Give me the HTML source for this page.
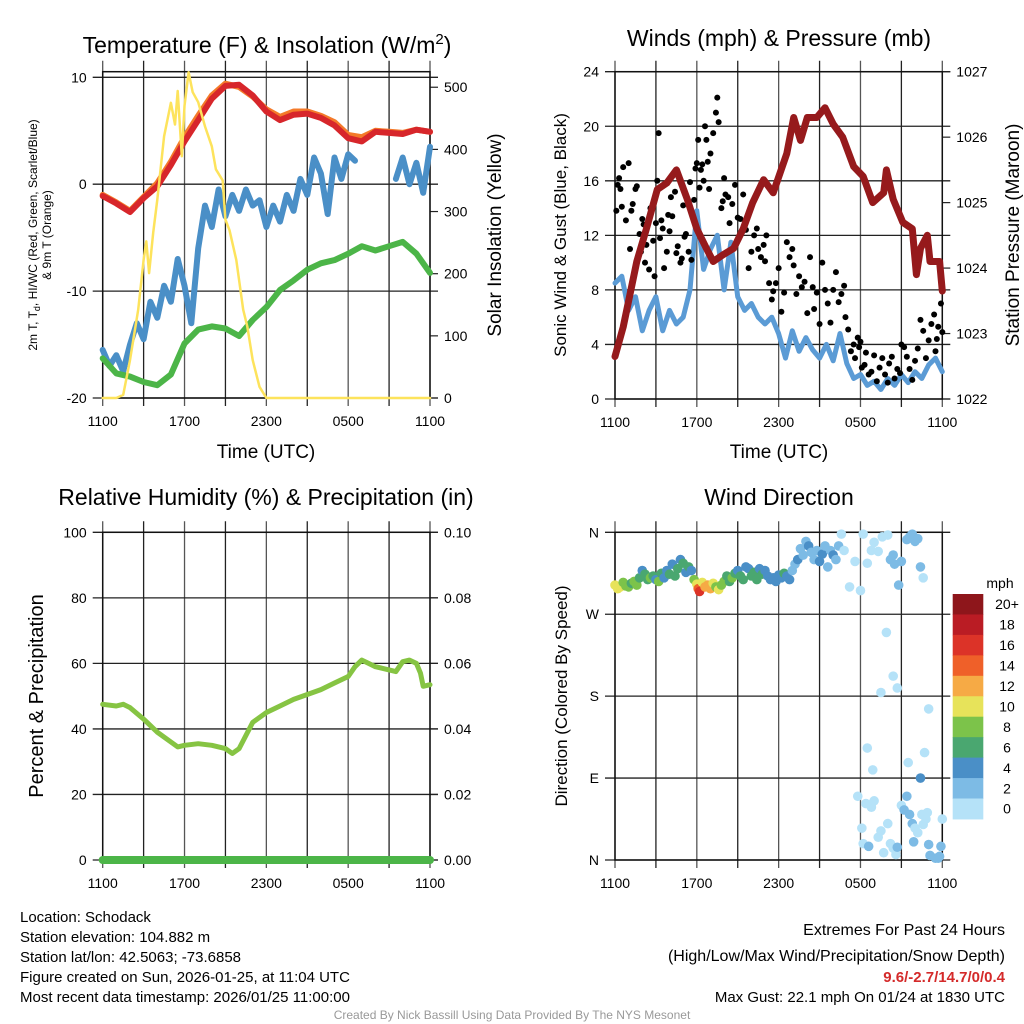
<!DOCTYPE html>
<html><head><meta charset="utf-8"><style>
html,body{margin:0;padding:0;background:#fff;}
svg{display:block;font-family:"Liberation Sans",sans-serif;}
</style></head><body>
<svg id="s" width="1024" height="1024" viewBox="0 0 1024 1024" xmlns="http://www.w3.org/2000/svg">
<rect width="1024" height="1024" fill="#fff"/>
<text x="267" y="53" font-size="23" text-anchor="middle">Temperature (F) &amp; Insolation (W/m<tspan dy="-9" font-size="15">2</tspan><tspan dy="9">)</tspan></text>
<text x="779" y="46" font-size="23" text-anchor="middle">Winds (mph) &amp; Pressure (mb)</text>
<text x="266" y="505" font-size="23" text-anchor="middle">Relative Humidity (%) &amp; Precipitation (in)</text>
<text x="779" y="505" font-size="23" text-anchor="middle">Wind Direction</text>
<text x="266" y="458" font-size="19" text-anchor="middle">Time (UTC)</text>
<text x="779" y="458" font-size="19" text-anchor="middle">Time (UTC)</text>
<text transform="translate(37,235) rotate(-90)" font-size="12" text-anchor="middle">2m T, T<tspan dy="3" font-size="9">d</tspan><tspan dy="-3">, HI/WC (Red, Green, Scarlet/Blue)</tspan></text>
<text transform="translate(51,235) rotate(-90)" font-size="12" text-anchor="middle">&amp; 9m T (Orange)</text>
<text transform="translate(501,235) rotate(-90)" font-size="19" text-anchor="middle">Solar Insolation (Yellow)</text>
<text transform="translate(566,235) rotate(-90)" font-size="17" text-anchor="middle">Sonic Wind &amp; Gust (Blue, Black)</text>
<text transform="translate(1019,235) rotate(-90)" font-size="19" text-anchor="middle">Station Pressure (Maroon)</text>
<text transform="translate(43,696) rotate(-90)" font-size="20" text-anchor="middle">Percent &amp; Precipitation</text>
<text transform="translate(567,696) rotate(-90)" font-size="17" text-anchor="middle">Direction (Colored By Speed)</text>
<text x="1000" y="588" font-size="14" text-anchor="middle">mph</text>
<g font-size="15">
<text x="20" y="922">Location: Schodack</text>
<text x="20" y="942">Station elevation: 104.882 m</text>
<text x="20" y="962">Station lat/lon: 42.5063; -73.6858</text>
<text x="20" y="982">Figure created on Sun, 2026-01-25, at 11:04 UTC</text>
<text x="20" y="1002">Most recent data timestamp: 2026/01/25 11:00:00</text>
</g>
<g font-size="15" text-anchor="end">
<text x="1005" y="935" font-size="16">Extremes For Past 24 Hours</text>
<text x="1005" y="961" font-size="16">(High/Low/Max Wind/Precipitation/Snow Depth)</text>
<text x="1005" y="982" font-weight="bold" fill="#d42a2a">9.6/-2.7/14.7/0/0.4</text>
<text x="1005" y="1002">Max Gust: 22.1 mph On 01/24 at 1830 UTC</text>
</g>
<text x="512" y="1019" font-size="12" fill="#999" text-anchor="middle">Created By Nick Bassill Using Data Provided By The NYS Mesonet</text>
</svg>
<script>
// ---- data ----
const hourT = [0,1,2,3,4,5,6,7,8,9,10,11,12,13,14,15,16,17,18,19,20,21,22,23,24];
const tempF = [-1.1,-1.8,-2.6,-1.3,-0.2,1.8,4.0,6.0,8.0,9.2,9.3,8.3,6.8,6.0,6.5,6.6,6.2,5.5,4.3,4.0,4.9,4.8,4.7,5.1,4.9];
const temp9m = [-1.0,-1.7,-2.5,-1.2,0.1,2.1,4.4,6.4,8.3,9.4,9.1,8.2,7.0,6.3,6.8,6.8,6.4,5.8,4.6,4.4,5.0,4.9,4.8,5.1,4.9];
const wcF = [-16.3,-17.7,-18.0,-18.5,-18.8,-17.8,-14.9,-13.6,-13.3,-13.5,-14.2,-12.7,-11.5,-9.9,-9.0,-8.0,-7.4,-7.1,-6.5,-5.8,-6.2,-5.8,-5.4,-6.5,-8.3];
const halfT = []; for (let i=0;i<=48;i++) halfT.push(i/2);
const dewF = [-15.5,-17,-16,-17.5,-15,-13,-14.5,-11,-12.5,-9.5,-11,-7,-9.5,-13,-6,-2,-4,-0.5,-3,-1,-2.5,-0.5,-2,-1.5,-4,-2,-3.5,-1,-2.5,0.5,-1,2.5,1,-2.8,2.5,0.5,2.8,2.2,null,null,null,null,null,0.5,2.5,0.0,2,-0.8,3.5];
const insT = [0,1,1.5,2,2.6,3.0,3.2,3.4,3.7,4,4.5,5,5.3,5.5,5.8,6,6.3,6.6,7,7.5,8,8.3,8.8,9,9.3,9.8,10.3,10.6,11,11.5,12,24];
const insV = [0,0,5,61,142,222,252,201,266,319,421,475,440,494,389,470,524,492,476,437,405,368,350,287,270,222,142,115,61,18,0,0];
const sonicV = [8.5,9.0,6.5,7.5,5.0,6.5,7.5,5.0,6.5,5.5,6.0,8.0,13.8,9.5,11.0,12.0,8.0,11.5,7.5,6.5,7.0,6.0,5.5,6.0,4.8,3.0,5.0,3.5,4.5,3.6,3.0,4.0,2.8,4.8,2.6,1.5,1.8,1.0,1.3,0.7,1.5,1.0,1.8,1.2,2.0,1.5,2.5,3.0,2.0];
const presT = [0,0.6,1.1,1.6,2.3,3.1,3.8,4.5,5.3,6.0,6.7,7.2,7.9,8.7,9.4,10.1,10.9,11.6,12.1,12.6,13.1,13.6,14.1,14.8,15.4,16.0,16.7,17.5,18.2,18.9,19.7,19.9,20.4,21.1,21.8,22.1,22.4,22.9,23.1,23.8,24];
const presV = [1022.65,1023.1,1023.6,1024.1,1024.6,1025.2,1025.3,1025.5,1025.05,1024.6,1024.3,1024.1,1024.2,1024.3,1024.6,1025.0,1025.35,1025.15,1025.45,1025.75,1026.3,1025.95,1026.3,1026.3,1026.45,1026.2,1026.0,1025.55,1025.4,1025.0,1025.15,1025.5,1025.05,1024.7,1024.6,1023.9,1024.3,1024.5,1024.1,1024.1,1023.65];
const gustT = [0.1,0.2,0.3,0.4,0.5,0.6,0.8,1.0,1.1,1.2,1.3,1.5,1.6,1.8,1.9,2.0,2.1,2.2,2.3,2.5,2.6,2.8,2.9,3.0,3.1,3.2,3.3,3.4,3.5,3.6,3.8,3.9,4.0,4.1,4.2,4.4,4.5,4.6,4.8,4.9,5.0,5.1,5.2,5.4,5.5,5.6,5.8,5.9,6.0,6.1,6.2,6.3,6.4,6.5,6.6,6.7,6.8,6.9,7.0,7.2,7.4,7.5,7.6,7.8,7.9,8.0,8.1,8.3,8.4,8.6,8.8,9.0,9.2,9.4,9.6,9.8,10.0,10.2,10.4,10.5,10.7,10.9,11.0,11.1,11.3,11.5,11.6,11.8,12.0,12.2,12.4,12.6,12.8,13.0,13.1,13.3,13.5,13.7,13.9,14.1,14.3,14.5,14.6,14.8,15.0,15.2,15.4,15.6,15.8,16.0,16.2,16.4,16.6,16.8,16.9,17.1,17.3,17.5,17.6,17.8,17.9,18.0,18.1,18.3,18.4,18.6,18.8,19.0,19.2,19.4,19.6,19.8,20.0,20.1,20.3,20.5,20.7,20.9,21.0,21.2,21.4,21.6,21.8,22.0,22.2,22.4,22.6,22.8,23.0,23.2,23.4,23.5,23.6,23.7,23.9,24.0];
const gustV = [13.8,15.7,16.2,15.4,14.1,17.0,13.1,17.3,11.0,13.8,14.3,15.4,15.6,12.1,10.8,13.2,12.8,10.0,11.3,9.5,14.0,11.6,9.0,12.9,16.0,19.5,11.8,13.1,12.5,9.6,10.8,13.5,12.3,14.8,13.4,15.2,10.7,11.2,10.0,10.3,14.2,11.9,12.1,10.8,15.9,10.2,14.6,16.9,17.3,19.0,15.5,16.8,17.2,16.0,20.0,19.0,17.4,15.4,18.0,19.5,21.0,22.1,20.3,14.0,14.5,16.2,15.0,14.8,12.9,14.3,15.7,13.3,13.2,15.0,12.4,9.6,10.8,12.0,12.5,11.0,10.4,11.3,10.1,12.0,8.5,7.3,7.9,8.5,9.6,6.4,7.8,11.5,10.4,11.0,9.8,7.7,9.0,8.2,8.6,6.3,10.4,8.2,6.6,7.8,5.5,10.0,8.0,7.0,5.6,8.0,9.3,7.1,7.7,8.3,6.0,5.1,3.5,4.0,3.0,4.5,3.8,4.2,2.3,2.5,3.4,1.8,2.0,3.2,1.3,2.3,3.0,1.8,1.2,2.6,3.1,1.5,2.2,1.9,4.0,3.8,3.1,2.2,1.4,2.8,3.7,5.8,5.0,3.0,4.3,5.5,6.2,3.5,4.4,5.3,7.0,4.9];
const rhT = [0,1,1.5,2,3,4,5,5.5,6,7,8,9,9.5,10,10.5,11,12,13,14,15,16,17,18,18.5,19,19.5,20,20.5,21,21.5,22,22.5,23,23.3,23.5,24];
const rhV = [47.5,47,47.5,46.5,43,39,36,34.5,35,35.5,35,34,32.5,34,38,42,45,47,49,50.5,52,54,56,59,61,60,59,58.5,58,57.5,60.5,61,60,57,53,53.5];
const precipV = [0,0];
const dirT = [0,0.2,0.4,0.6,0.8,1.0,1.2,1.4,1.6,1.8,2.0,2.2,2.4,2.6,2.8,3.0,3.2,3.4,3.6,3.8,4.0,4.2,4.4,4.6,4.8,5.0,5.2,5.4,5.6,5.8,6.0,6.1,6.2,6.4,6.6,6.8,7.0,7.2,7.4,7.6,7.8,8.0,8.2,8.4,8.6,8.8,9.0,9.2,9.4,9.6,9.8,10.0,10.2,10.4,10.6,10.8,11.0,11.2,11.4,11.6,11.8,12.0,12.2,12.4,12.6,12.8,13.0,13.2,13.4,13.6,13.8,14.0,14.2,14.4,14.6,14.8,15.0,15.2,15.4,15.6,15.8,16.0,16.2,16.4,16.6,16.8,17.2,17.6,18.0,18.2,18.5,18.8,19.0,19.3,19.6,20.0,20.2,20.4,20.5,20.8,21.0,21.4,21.6,21.8,22.0,22.2,22.4,22.6,19.9,20.4,20.7,19.5,23.0,18.5,22.7,21.5,22.4,18.9,17.8,18.1,18.2,18.4,18.6,18.8,19.0,19.3,19.5,19.7,20.0,20.2,20.4,20.6,20.7,21.0,21.2,21.4,21.6,21.8,21.9,22.0,22.2,22.5,22.6,22.8,23.0,23.1,23.5,23.7,23.8,23.9,24.0,22.9];
const dirD = [302,298,300,305,301,300,304,306,302,310,318,314,308,310,312,308,306,315,310,318,314,325,312,320,330,326,316,322,318,308,303,298,295,305,300,302,298,304,300,297,302,306,312,306,310,315,318,312,308,322,320,312,316,308,320,314,318,312,308,310,306,313,310,315,312,308,318,325,330,342,335,350,345,338,330,340,328,336,345,322,340,335,330,345,358,340,300,328,296,358,326,340,349,339,355,357,330,335,325,302,328,352,355,358,350,353,322,310,250,202,189,184,166,123,118,107,90,99,70,35,18,62,15,58,65,25,32,8,40,18,13,6,14,60,55,70,50,40,20,35,30,50,39,45,17,5,2,2,4,15,45,52];
const dirS = [10,10,11,8,9,8,7,8,9,6,4,6,7,8,6,4,8,6,5,4,6,4,7,6,4,6,4,6,5,8,11,15,16,11,12,13,12,10,9,10,8,9,7,6,8,6,4,7,6,5,4,7,6,7,4,6,4,5,4,5,4,4,5,7,4,5,3,3,4,3,2,3,4,3,2,3,5,4,3,2,3,4,3,2,1,1,1,1,1,0,1,1,1,1,1,1,3,3,2,3,2,3,2,2,2,3,3,1,1,1,1,1,1,1,1,1,4,1,1,1,1,1,2,1,1,1,1,1,1,1,1,1,3,1,2,3,2,3,3,1,1,1,1,1,3,3,3,3,3,3,1,1];
const speedColors = ['#b5e2f8','#7dbbe5','#4a8fc7','#4aa770','#7cc34a','#e7e35a','#f6aa45','#ef6029','#dc3328','#ba1c24','#8e161b'];
const speedLabels = ['0','2','4','6','8','10','12','14','16','18','20+'];
const hourTicks = ['1100','1700','2300','0500','1100'];

// ---- helpers ----
const NS='http://www.w3.org/2000/svg';
const svg=document.getElementById('s');
function mk(tag,attrs,parent){const e=document.createElementNS(NS,tag);for(const k in attrs)e.setAttribute(k,attrs[k]);(parent||svg).appendChild(e);return e;}
function xs(p,t){return p.x0+(p.x1-p.x0)*t/24;}
function ys(p,v,ax){const a=ax||p.L;return p.y1-(p.y1-p.y0)*(v-a[0])/(a[1]-a[0]);}

const P1={x0:102.7,x1:430,y0:71.7,y1:398,L:[-20,10.6],R:[0,525]};
P1.L=[-20,(71.7-398)/(77.3-398)*30-20];
const P2={x0:615,x1:942.3,y0:71.7,y1:399,L:[0,24],R:[1022,1027]};
const P3={x0:102.7,x1:430,y0:532.3,y1:860,L:[0,100],R:[0,0.1]};
const P4={x0:615,x1:942.3,y0:532.3,y1:860,L:[0,360]};

function frame(p,name,hvals,hlabels,rvals,rlabels){
  const g=mk('g',{});
  
  
  for(let i=0;i<=8;i++){
    const x=xs(p,i*3);
    const l=mk('line',{x1:x,x2:x,y1:p.y0-11,y2:p.y1+8,stroke:(i%2?'#222':'#555'),'stroke-width':1.3},g);
    
    
  }
  hourTicks.forEach((lab,i)=>{
    const t=mk('text',{x:xs(p,i*6),y:p.y1+28,'font-size':14,'text-anchor':'middle'},g);
    t.textContent=lab;
    
    
  });
  hvals.forEach((v,i)=>{
    const y=ys(p,v);
    const l=mk('line',{x1:p.x0-10,x2:p.x1+8,y1:y,y2:y,stroke:'#222','stroke-width':1.3},g);
    
    
    const t=mk('text',{x:p.x0-16,y:y+5,'font-size':14,'text-anchor':'end'},g);
    t.textContent=hlabels[i];
    
    
  });
  if(rvals){rvals.forEach((v,i)=>{
    const y=ys(p,v,p.R);
    const l=mk('line',{x1:p.x1,x2:p.x1+8,y1:y,y2:y,stroke:'#222','stroke-width':1.2},g);
    
    
    const t=mk('text',{x:p.x1+14,y:y+5,'font-size':14},g);
    t.textContent=rlabels[i];
    
    
  });}
  const r=mk('rect',{x:p.x0,y:p.y0,width:p.x1-p.x0,height:p.y1-p.y0,fill:'none',stroke:'#111','stroke-width':1.5},g);
  
  
}
frame(P1,'temp',[10,0,-10,-20],['10','0','-10','-20'],[0,100,200,300,400,500],['0','100','200','300','400','500']);
frame(P2,'wind',[0,4,8,12,16,20,24],['0','4','8','12','16','20','24'],[1022,1023,1024,1025,1026,1027],['1022','1023','1024','1025','1026','1027']);
frame(P3,'rh',[0,20,40,60,80,100],['0','20','40','60','80','100'],[0,0.02,0.04,0.06,0.08,0.1],['0.00','0.02','0.04','0.06','0.08','0.10']);
frame(P4,'dir',[0,90,180,270,360],['N','E','S','W','N'],null,null);

function path(p,T,V,ax,color,w,name){
  let d='',pen=false;
  for(let i=0;i<T.length;i++){
    if(V[i]===null){pen=false;continue;}
    d+=(pen?'L':'M')+xs(p,T[i]).toFixed(1)+','+ys(p,V[i],ax).toFixed(1);pen=true;
  }
  const e=mk('path',{d:d,fill:'none',stroke:color,'stroke-width':w,'stroke-linejoin':'round','stroke-linecap':'round'});
  
  
  return e;
}
// Panel 1
path(P1,halfT,dewF,P1.L,'#4a8fc7',6,'dewpoint-line');
path(P1,hourT,wcF,P1.L,'#4cb548',6,'windchill-line');
path(P1,hourT,temp9m,P1.L,'#f47a2a',6,'temp-9m-line');
path(P1,hourT,tempF,P1.L,'#d7262b',6,'temp-2m-line');
path(P1,insT,insV,P1.R,'#fde35c',2.5,'insolation-line');
// Panel 2
path(P2,halfT,sonicV,P2.L,'#5b9bd5',5,'sonic-wind-line');
gustT.forEach((t,i)=>{
  const c=mk('circle',{cx:xs(P2,t),cy:ys(P2,gustV[i]),r:3,fill:'#000'});
  
  
});
path(P2,presT,presV,P2.R,'#961a1c',7,'pressure-line');
// Panel 3
path(P3,rhT,rhV,P3.L,'#86c443',5,'rh-line');
path(P3,[0,24],precipV,P3.R,'#4cb548',8,'precip-line');
// Panel 4
dirT.forEach((t,i)=>{
  const b=Math.min(10,Math.floor(dirS[i]/2));
  const c=mk('circle',{cx:xs(P4,t),cy:ys(P4,dirD[i]),r:4.8,fill:speedColors[b]});
  
  
});
// colorbar
const cb0=594,cbh=20.45;
speedColors.forEach((col,i)=>{
  const k=10-i;
  const r=mk('rect',{x:952.7,y:cb0+i*cbh,width:30.6,height:cbh+0.5,fill:speedColors[k]});
  
  
  const t=mk('text',{x:1007,y:cb0+i*cbh+cbh/2+5,'font-size':14,'text-anchor':'middle'});
  t.textContent=speedLabels[k];
  
  
});
</script>
</body></html>
